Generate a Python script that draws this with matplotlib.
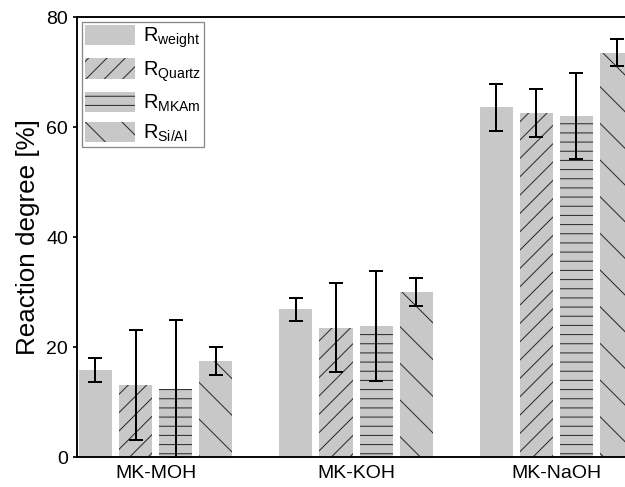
import matplotlib
matplotlib.use("Agg")
import matplotlib.pyplot as plt
import numpy as np

groups = ["MK-MOH", "MK-KOH", "MK-NaOH"]
series = [r"R$_{\mathrm{weight}}$", r"R$_{\mathrm{Quartz}}$", r"R$_{\mathrm{MKAm}}$", r"R$_{\mathrm{Si/Al}}$"]
r_weight = [15.8, 26.9, 63.6]
r_quartz = [13.1, 23.5, 62.5]
r_mkam = [12.4, 23.8, 62.0]
r_sial = [17.5, 30.0, 73.5]
err_weight = [2.2, 2.1, 4.3]
err_quartz = [10.0, 8.1, 4.4]
err_mkam = [12.5, 10.0, 7.9]
err_sial = [2.5, 2.5, 2.5]
y_ticks = [0, 20, 40, 60, 80]

DPI = 110


def pt(px):
    return px * 72.0 / DPI


plt.rcParams['font.family'] = ['Liberation Sans', 'DejaVu Sans']
plt.rcParams['mathtext.fontset'] = 'custom'
plt.rcParams['mathtext.rm'] = 'Liberation Sans'
plt.rcParams['mathtext.it'] = 'Liberation Sans:italic'
plt.rcParams['hatch.linewidth'] = pt(1.0)
plt.rcParams['hatch.color'] = '#2a2a2a'

fig = plt.figure(figsize=(625 / DPI, 487 / DPI), dpi=DPI)
ax = fig.add_axes([77 / 625, 30 / 487, (625 - 77) / 625, 440 / 487])

values = [r_weight, r_quartz, r_mkam, r_sial]
errors = [err_weight, err_quartz, err_mkam, err_sial]
hatches = ['', '//', '--', '\\']
x = np.arange(len(groups))
step = 0.2
width = 0.165
for i, (vals, errs, h, lab) in enumerate(zip(values, errors, hatches, series)):
    pos = x + (i - 1.5) * step
    ax.bar(pos, vals, width, color='#c8c8c8', linewidth=0, hatch=h, label=lab, zorder=2)
    ax.errorbar(pos, vals, yerr=errs, fmt='none', ecolor='black', elinewidth=pt(2.0),
                capsize=pt(7), capthick=pt(2.0), zorder=3)

ax.set_xlim(-0.392, 2.342)
ax.set_ylim(0, 80)
ax.set_yticks(y_ticks)
ax.set_xticks(x)
ax.set_xticklabels(groups, fontsize=pt(19.5))
ax.tick_params(axis='x', length=0, pad=pt(8))
ax.tick_params(axis='y', direction='out', length=pt(4), width=pt(1.7),
               labelsize=pt(19.5), pad=pt(5))
ax.set_ylabel("Reaction degree [%]", fontsize=pt(26), labelpad=pt(6))
for s in ['left', 'bottom', 'top']:
    ax.spines[s].set_linewidth(pt(1.9))
    ax.spines[s].set_color('black')
ax.spines['right'].set_visible(False)

leg = ax.legend(loc='upper left', fontsize=pt(20), frameon=True, fancybox=False,
                edgecolor='#888888', framealpha=1, borderaxespad=0.25, borderpad=0.15,
                handlelength=2.5, handleheight=1.2, handletextpad=0.4, labelspacing=0.4)
leg.get_frame().set_linewidth(pt(1.3))

fig.savefig("out.png", dpi=DPI)
